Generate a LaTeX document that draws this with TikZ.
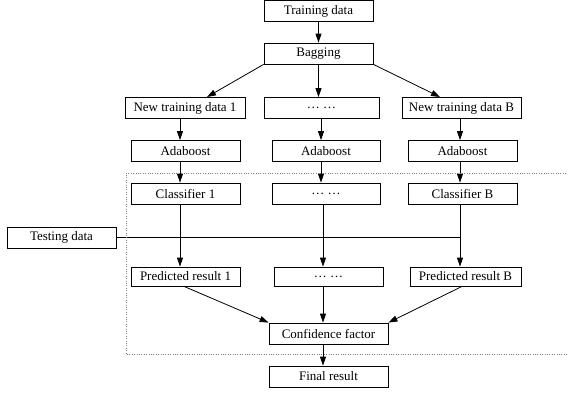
\documentclass[tikz,border=0pt]{standalone}
\usepackage{fontspec}
\setmainfont{Liberation Serif}
\usetikzlibrary{arrows.meta, positioning, calc}

\begin{document}
\begin{tikzpicture}[
  x=1pt, y=-1pt,
  box/.style={draw=black, thick, minimum height=21pt, inner sep=0pt, font=\fontsize{13}{15}\selectfont},
  arr/.style={-{Triangle[length=9pt, width=6pt]}, thick},
  lnk/.style={thick}
]
\useasboundingbox (0,0) rectangle (568,394);

% training stage
\node[box, minimum width=109pt] (train) at (318.5,11) {Training data};
\node[box, minimum width=109pt] (bag) at (318.5,53.5) {Bagging};
\node[box, minimum width=120pt] (ntd1) at (185,108) {New training data 1};
\node[box, minimum width=115pt] (ntdm) at (321.5,108) {\ldots\ \ldots};
\node[box, minimum width=119pt] (ntdB) at (461.5,108) {New training data B};
\node[box, minimum width=109pt] (ada1) at (185.5,151) {Adaboost};
\node[box, minimum width=108pt] (adam) at (326,151) {Adaboost};
\node[box, minimum width=109pt] (adaB) at (462.5,151) {Adaboost};

% testing stage
\node[box, minimum width=109pt] (cls1) at (185.5,193.5) {Classifier 1};
\node[box, minimum width=108pt] (clsm) at (326,193.5) {\ldots\ \ldots};
\node[box, minimum width=109pt] (clsB) at (462.5,193.5) {Classifier B};
\node[box, minimum width=109pt] (test) at (61.5,237.5) {Testing data};
\node[box, minimum width=109pt, minimum height=19pt] (pred1) at (185.5,276.5) {Predicted result 1};
\node[box, minimum width=109pt, minimum height=19pt] (predm) at (328.5,276.5) {\ldots\ \ldots};
\node[box, minimum width=111pt, minimum height=19pt] (predB) at (465.5,276.5) {Predicted result B};
\node[box, minimum width=119pt] (conf) at (328.5,333.5) {Confidence factor};
\node[box, minimum width=119pt] (final) at (328.5,376.5) {Final result};

% column lines
\coordinate (c1) at (180,0);
\coordinate (cm) at (321,0);
\coordinate (cn) at (323,0);
\coordinate (cB) at (460,0);
\coordinate (tB) at (460,237);

\draw[arr] (train) -- (bag);
\draw[arr] (bag.south west) -- (207,97);
\draw[arr] (bag) -- (bag.south |- ntdm.north);
\draw[arr] (bag.south east) -- (440,97);

\draw[arr] (ntd1.south -| c1) -- (ada1.north -| c1);
\draw[arr] (ntdm.south -| cm) -- (adam.north -| cm);
\draw[arr] (ntdB.south -| cB) -- (adaB.north -| cB);
\draw[arr] (ada1.south -| c1) -- (cls1.north -| c1);
\draw[arr] (adam.south -| cm) -- (clsm.north -| cm);
\draw[arr] (adaB.south -| cB) -- (clsB.north -| cB);

\draw[lnk] (test.east |- tB) -- (tB);
\draw[arr] (cls1.south -| c1) -- (pred1.north -| c1);
\draw[arr] (clsm.south -| cn) -- (predm.north -| cn);
\draw[arr] (clsB.south -| cB) -- (predB.north -| cB);

\draw[arr] (pred1.south -| 184,0) -- (conf.north west);
\draw[arr] (predm.south -| cn) -- (conf.north -| cn);
\draw[arr] (predB.south -| 462,0) -- (conf.north east);
\draw[arr] (conf.south -| cn) -- (final.north -| cn);

% dotted frame
\draw[gray, dotted, thin] (568,173) -- (126,173) -- (126,354) -- (568,354);
\end{tikzpicture}
\end{document}
